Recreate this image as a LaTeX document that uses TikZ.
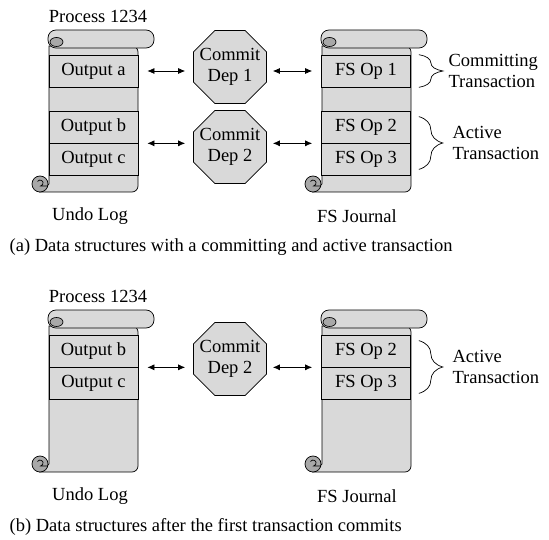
\documentclass[tikz,border=0pt]{standalone}
\usepackage{fontspec}
\setmainfont{Liberation Serif}
\usepackage{tikz}
\usetikzlibrary{shapes.geometric}
\usetikzlibrary{arrows.meta,decorations.pathreplacing}
\definecolor{scrollgray}{HTML}{D9D9D9}
\definecolor{curlgray}{HTML}{A8A8A8}

\newcommand{\logscroll}[1]{%
  \begin{scope}[shift={(#1)}]
  \draw[fill=scrollgray] (0,0.2) -- (0,-13.6) -- (-0.9,-14.4) [rounded corners=6pt] -- (8.9,-14.4) -- (8.9,0.2) [sharp corners] -- cycle; % Rolle Koerper
  \draw[fill=curlgray] (-0.9,-13.6) circle (0.8);                          % untere Locke
  \draw (-1.15,-13.35) arc (150:-80:0.3) -- (-0.1,-13.8);
  \draw[fill=scrollgray,rounded corners=8pt] (-0.1,0) rectangle (10.5,1.8); % obere Rolle
  \draw[fill=curlgray] (0.75,0.6) ellipse (0.65 and 0.45);                  % obere Locke
  \end{scope}}

\begin{document}
\begin{tikzpicture}[x=10pt,y=10pt,line width=0.7pt,font=\fontsize{18.5}{21}\selectfont,
  entry/.style={draw,fill=scrollgray,minimum width=89pt,minimum height=32pt,inner sep=0pt},
  dep/.style={regular polygon,regular polygon sides=8,draw,fill=scrollgray,minimum size=79pt,inner sep=-9pt,align=center},
  link/.style={{Latex[length=7pt,width=6pt]}-{Latex[length=7pt,width=6pt]}},
  span/.style={decorate,decoration={brace,amplitude=24pt}}]
\useasboundingbox (0,0) rectangle (54.9,53.9);

% (a) committing and active transaction
\node (proca) at (9.8,52.3) {Process 1234};
\logscroll{4.9,49.1}	% Undo Log
\logscroll{32.2,49.1}	% FS Journal

\node[entry] (outa) at (9.35,46.8) {Output a};
\node[entry] (outb) at (9.35,41.2) {Output b};
\node[entry] (outc) at (9.35,38.0) {Output c};
\node[entry] (fsa) at (36.6,46.8) {FS Op 1};
\node[entry] (fsb) at (36.6,41.2) {FS Op 2};
\node[entry] (fsc) at (36.6,38.0) {FS Op 3};

\node[dep] (depa) at (23.0,47.2) {Commit\\Dep 1};
\node[dep] (depb) at (23.0,39.2) {Commit\\Dep 2};

\draw[link,shorten <=9pt,shorten >=8pt] (outa.east) -- (outa.east -| depa.west);
\draw[link,shorten <=6pt,shorten >=9pt] (fsa.west -| depa.east) -- (fsa.west);
\draw[link,shorten <=9pt,shorten >=8pt] (outb.south east) -- (outb.south east -| depb.west);
\draw[link,shorten <=6pt,shorten >=9pt] (fsb.south west -| depb.east) -- (fsb.south west);

\draw[span] ([xshift=8pt]fsa.north east) -- ([xshift=8pt]fsa.south east) node[midway,anchor=west,xshift=26pt,align=left] (txa) {Committing\\Transaction};
\draw[span] ([xshift=8pt,yshift=-6pt]fsb.north east) -- ([xshift=8pt,yshift=6pt]fsc.south east) node[midway,anchor=west,xshift=30pt,align=left] (txb) {Active\\Transaction};

\node (undoa) at (9.0,32.3) {Undo Log};
\node (journala) at (35.7,32.3) {FS Journal};
\node[anchor=west] (capa) at (0.6,29.2) {(a) Data structures with a committing and active transaction};

% (b) after the first commit
\node (procb) at (9.8,24.3) {Process 1234};
\logscroll{4.9,21.1}	% Undo Log
\logscroll{32.2,21.1}	% FS Journal

\node[entry] (outb2) at (9.35,18.8) {Output b};
\node[entry] (outc2) at (9.35,15.6) {Output c};
\node[entry] (fsb2) at (36.6,18.8) {FS Op 2};
\node[entry] (fsc2) at (36.6,15.6) {FS Op 3};

\node[dep] (depb2) at (23.0,18.0) {Commit\\Dep 2};

\draw[link,shorten <=9pt,shorten >=8pt] (outb2.south east) -- (outb2.south east -| depb2.west);
\draw[link,shorten <=6pt,shorten >=9pt] (fsb2.south west -| depb2.east) -- (fsb2.south west);

\draw[span] ([xshift=8pt,yshift=-6pt]fsb2.north east) -- ([xshift=8pt,yshift=6pt]fsc2.south east) node[midway,anchor=west,xshift=30pt,align=left] (txb2) {Active\\Transaction};

\node (undob) at (9.0,4.3) {Undo Log};
\node (journalb) at (35.7,4.3) {FS Journal};
\node[anchor=west] (capb) at (0.6,1.2) {(b) Data structures after the first transaction commits};

\end{tikzpicture}
\end{document}
